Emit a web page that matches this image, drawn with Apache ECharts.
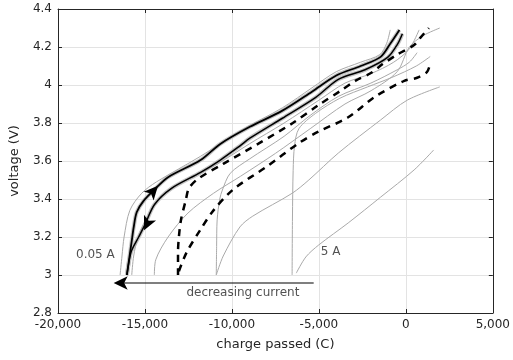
<!DOCTYPE html>
<html>
<head>
<meta charset="utf-8">
<script src="https://cdn.jsdelivr.net/npm/echarts@6/dist/echarts.min.js"></script>
<style>
  html, body { margin: 0; padding: 0; background: #fff; }
  #chart { width: 513px; height: 360px; }
</style>
</head>
<body>
<div id="chart"></div>
<script>
var chart = echarts.init(document.getElementById('chart'), null, { renderer: 'canvas' })

var xTicks = [-20000, 5000, 5000]   // min, max, interval
var yTicks = [2.8, 4.4, 0.2]

/* black solid: 0.05 A charge / discharge */
var charge005 = [[-16040,3.0],[-15900,3.09],[-15760,3.18],[-15650,3.25],[-15475,3.33],[-15080,3.39],
  [-14340,3.46],[-13670,3.515],[-11800,3.605],[-10667,3.69],[-8970,3.78],[-7100,3.865],[-5400,3.965],
  [-4000,4.05],[-2600,4.10],[-1450,4.148],[-880,4.22],[-370,4.29]]
var discharge005 = [[-16040,3.0],[-15900,3.08],[-15760,3.13],[-15360,3.2],[-15000,3.265],[-14460,3.37],
  [-13495,3.455],[-11800,3.54],[-10667,3.605],[-9536,3.68],[-8970,3.72],[-7100,3.825],[-5180,3.935],
  [-3880,4.03],[-2350,4.08],[-1050,4.145],[-480,4.215],[-200,4.27]]

/* black dashed */
var dashedUpper = [[-13100,3.0],[-13100,3.12],[-13050,3.2],[-12930,3.29],[-12650,3.395],[-12480,3.455],
  [-11970,3.505],[-10500,3.585],[-8500,3.69],[-6500,3.80],[-5010,3.895],[-3710,3.972],[-2860,4.024],
  [-2010,4.063],[-1335,4.11],[-500,4.16],[475,4.21],[815,4.247],[1320,4.30]]
var dashedLower = [[-13050,3.02],[-12600,3.12],[-11800,3.24],[-11060,3.34],[-9930,3.45],[-8010,3.57],
  [-6143,3.695],[-5010,3.755],[-3315,3.83],[-1790,3.937],[-90,4.022],[645,4.038],[1210,4.068],[1380,4.105]]

/* grey: other currents / cycles */
var greyA = [[-16430,3.0],[-16320,3.1],[-16200,3.2],[-15870,3.34],[-15190,3.43],[-14340,3.49],[-11800,3.625],
  [-9500,3.76],[-7100,3.88],[-5400,3.985],[-4000,4.07],[-2600,4.12],[-1500,4.16],[-1100,4.22],[-900,4.29]]
var greyB = [[-15760,3.0],[-15650,3.1],[-15400,3.2],[-14900,3.3],[-14200,3.4],[-13000,3.48],[-11000,3.575],
  [-9000,3.69],[-7000,3.80],[-5000,3.92],[-3500,4.01],[-2000,4.06],[-700,4.12],[200,4.19],[760,4.29]]
var greyC = [[-14460,3.0],[-14380,3.08],[-13670,3.2],[-12530,3.326],[-11060,3.43],[-9500,3.52],[-7500,3.64],
  [-5500,3.77],[-3500,3.90],[-2000,3.97],[-500,4.07],[200,4.2],[1000,4.26],[1950,4.3]]
var greyD = [[-10900,3.0],[-10880,3.15],[-10850,3.29],[-10700,3.4],[-10550,3.447],[-10100,3.535],[-9000,3.61],
  [-7000,3.73],[-5500,3.84],[-3880,3.94],[-2013,4.01],[-500,4.08],[200,4.12],[645,4.17]]
var greyE = [[-10900,3.0],[-10500,3.1],[-9540,3.253],[-8800,3.31],[-6540,3.43],[-5580,3.5],[-3880,3.642],
  [-1450,3.816],[75,3.92],[1950,3.99]]
var greyF = [[-6540,3.0],[-6520,3.3],[-6480,3.55],[-6400,3.68],[-6150,3.77],[-5200,3.85],[-3800,3.93],
  [-2200,3.99],[-800,4.04],[600,4.1],[1400,4.15]]
var grey5A = [[-6300,3.01],[-5750,3.095],[-5010,3.158],[-3315,3.274],[-1450,3.41],[475,3.553],[1600,3.658]]

var arrowLine = [[-5300,2.958],[-16500,2.958]]
var arrowHeads = [[-14250,3.47,-42],[-15050,3.235,155],[-16800,2.958,90]]

var labels = [
  { name: '0.05 A', value: [-17850,3.105] },
  { name: '5 A', value: [-4330,3.12] },
  { name: 'decreasing current', value: [-9370,2.905] }
]

var GREY = '#aaaaaa'
var INK = '#262626'
var FONT = 'DejaVu Sans'

function greyLine(d) {
  return { type: 'line', data: d, symbol: 'none', smooth: 0.3, silent: true,
    lineStyle: { color: GREY, width: 1 } }
}
function halo(d) {
  return { type: 'line', data: d, symbol: 'none', smooth: 0.3, silent: true,
    lineStyle: { color: '#c4c4c4', width: 4 } }
}

var axisCommon = {
  type: 'value',
  axisLine: { show: true, onZero: false, lineStyle: { color: INK, width: 1 } },
  axisTick: { show: true, inside: true, length: 4, lineStyle: { color: INK } }
}

chart.setOption({
  animation: false,
  backgroundColor: '#fff',
  grid: { left: 55, right: 16, top: 9, bottom: 47 },
  xAxis: [
    Object.assign({}, axisCommon, {
      min: xTicks[0], max: xTicks[1], interval: xTicks[2],
      name: 'charge passed (C)', nameLocation: 'middle', nameGap: 25,
      nameTextStyle: { fontFamily: FONT, fontSize: 13, color: INK },
      axisLabel: { fontFamily: FONT, fontSize: 12, color: INK, margin: 6 },
      splitLine: { show: true, lineStyle: { color: '#e3e3e3', width: 1 } }
    }),
    Object.assign({}, axisCommon, {
      position: 'top', min: xTicks[0], max: xTicks[1], interval: xTicks[2],
      axisLabel: { show: false }, splitLine: { show: false }
    })
  ],
  yAxis: [
    Object.assign({}, axisCommon, {
      min: yTicks[0], max: yTicks[1], interval: yTicks[2],
      name: 'voltage (V)', nameLocation: 'middle', nameGap: 37,
      nameTextStyle: { fontFamily: FONT, fontSize: 13, color: INK },
      axisLabel: { fontFamily: FONT, fontSize: 12, color: INK, margin: 6 },
      splitLine: { show: true, lineStyle: { color: '#e3e3e3', width: 1 } }
    }),
    Object.assign({}, axisCommon, {
      position: 'right', min: yTicks[0], max: yTicks[1], interval: yTicks[2],
      axisLabel: { show: false }, splitLine: { show: false }
    })
  ],
  series: [
    greyLine(greyE), greyLine(greyF), greyLine(grey5A), greyLine(greyD), greyLine(greyC),
    halo(charge005), halo(discharge005),
    greyLine(greyA), greyLine(greyB),
    { type: 'line', data: dashedLower, symbol: 'none', smooth: 0.3,
      lineStyle: { color: '#000', width: 2.5, type: [7, 6] } },
    { type: 'line', data: dashedUpper, symbol: 'none', smooth: 0.3,
      lineStyle: { color: '#000', width: 2.5, type: [7, 6] } },
    { type: 'line', data: charge005, symbol: 'none', smooth: 0.3,
      lineStyle: { color: '#000', width: 1.8 } },
    { type: 'line', data: discharge005, symbol: 'none', smooth: 0.3,
      lineStyle: { color: '#000', width: 1.5 } },
    { type: 'line', data: arrowLine, symbol: 'none',
      lineStyle: { color: '#000', width: 1.2 } },
    { type: 'scatter', symbol: 'arrow', symbolSize: [10, 14], z: 10,
      data: arrowHeads.map(function(a) {
        return { value: [a[0], a[1]], symbolRotate: a[2] }
      }),
      itemStyle: { color: '#000', opacity: 1 } },
    { type: 'scatter', symbolSize: 0, data: labels,
      label: { show: true, position: 'inside', formatter: '{b}',
        fontFamily: FONT, fontSize: 12, color: INK } }
  ]
})
</script>
</body>
</html>
